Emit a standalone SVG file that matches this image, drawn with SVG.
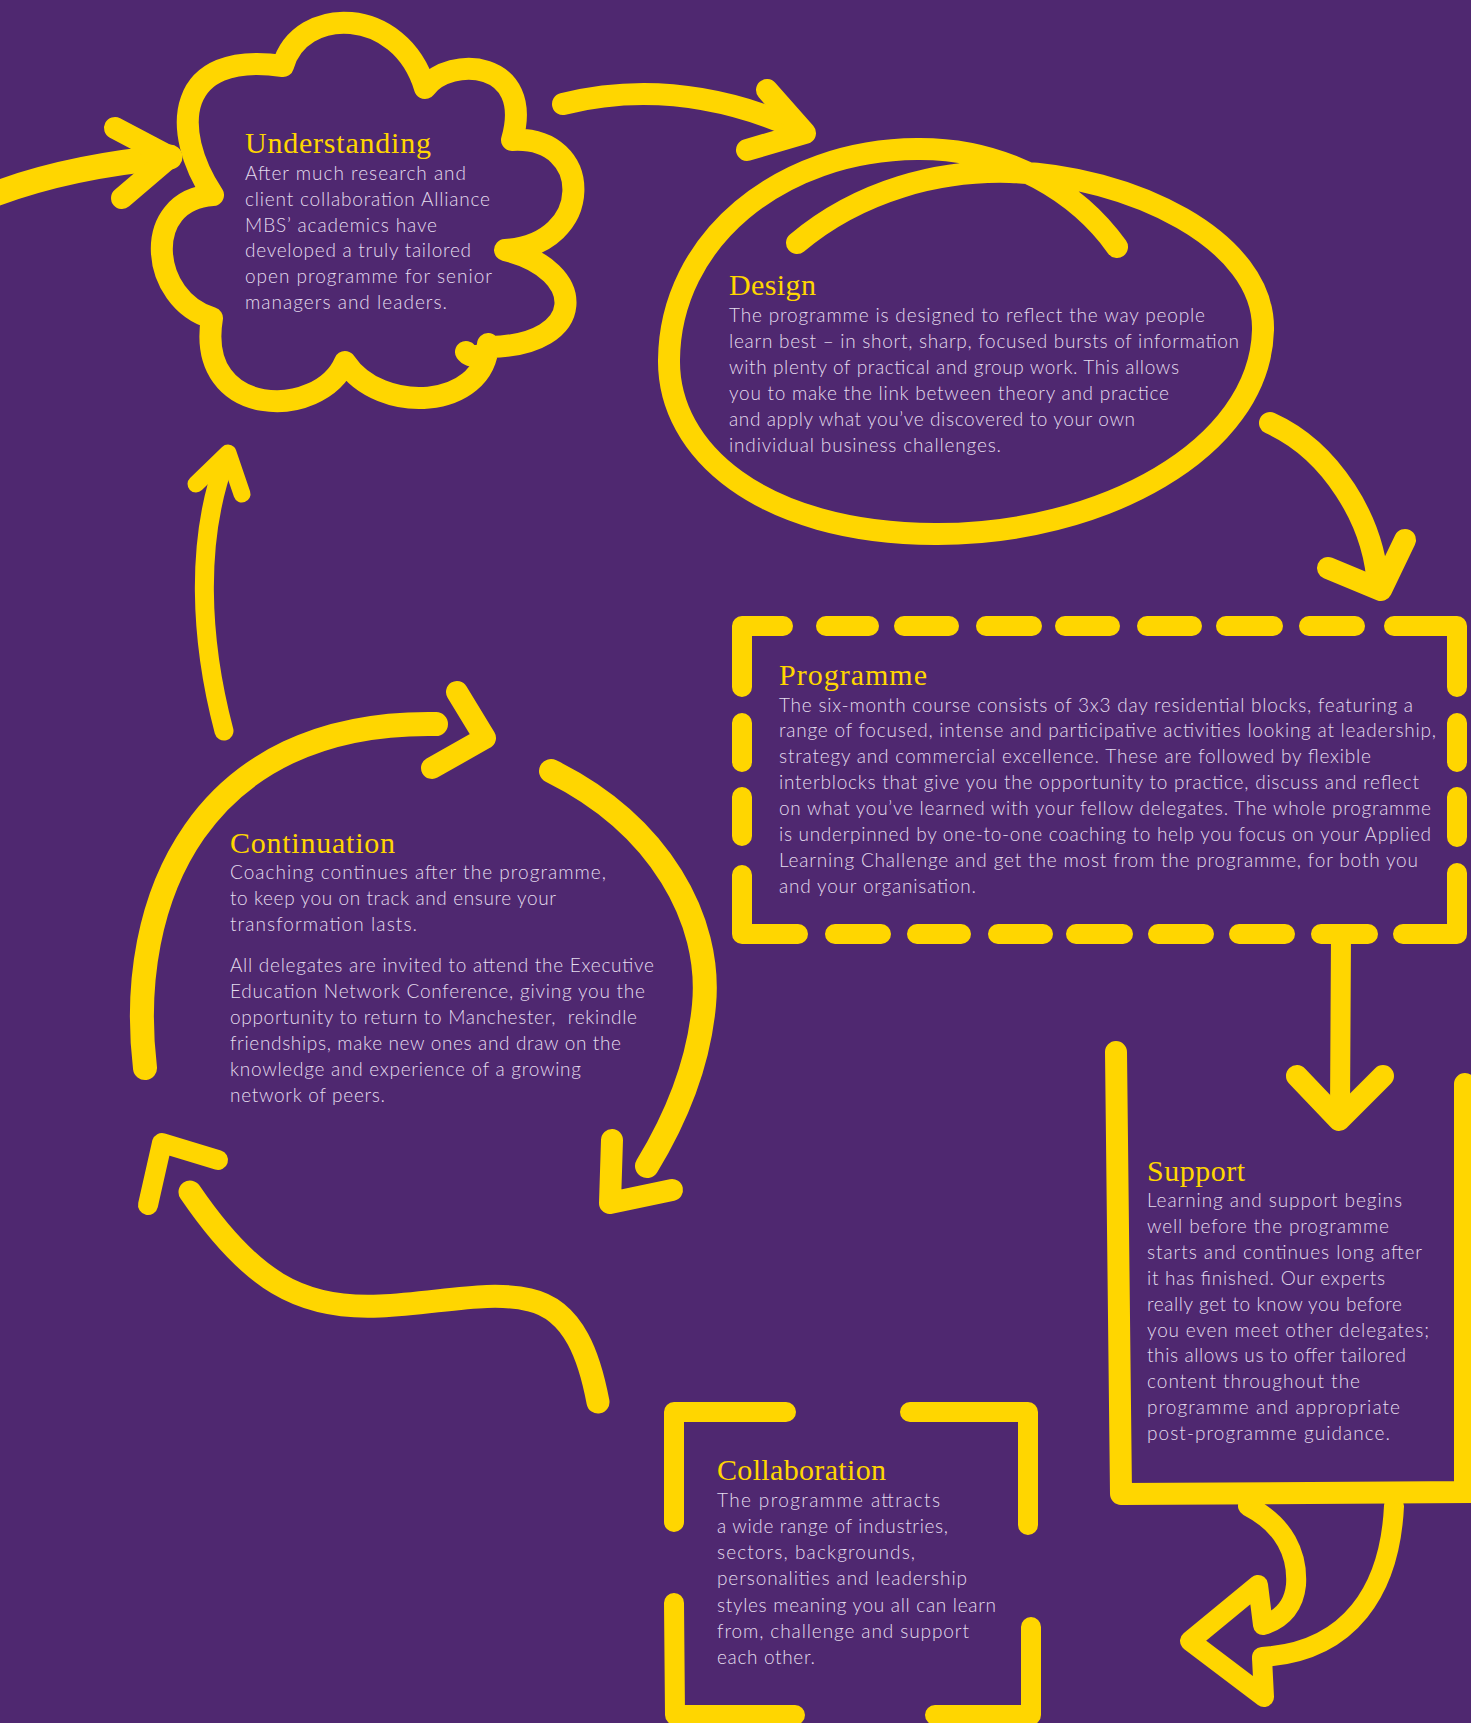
<svg xmlns="http://www.w3.org/2000/svg" width="1471" height="1723" viewBox="0 0 1471 1723">
<style>
.s{fill:none;stroke:#FFD600;stroke-linecap:round;stroke-linejoin:round}
.t{font-family:"Liberation Serif","Times New Roman",serif;font-size:30px;fill:#FFD600}
.b{font-family:Lato,"Open Sans","Liberation Sans",sans-serif;font-weight:300;font-size:19px;fill:#E4DCEE}
</style>
<rect x="0" y="0" width="1471" height="1723" fill="#4F2870"/>

<g id="connectors">
  <!-- into Understanding from left -->
  <path class="s" stroke-width="25" d="M-5,194 Q70,166 170,157"/>
  <path class="s" stroke-width="22" d="M115,128 L170,157 L122,198"/>
  <!-- Understanding to Design -->
  <path class="s" stroke-width="22" d="M563,104 Q680,75 803,131"/>
  <path class="s" stroke-width="22" d="M767,90 L805,133 L747,150"/>
  <!-- Design to Programme -->
  <path class="s" stroke-width="22" d="M1270,423 C1330,450 1375,520 1378,588"/>
  <path class="s" stroke-width="22" d="M1328,568 L1381,590 L1405,540"/>
  <!-- Programme to Support -->
  <path class="s" stroke-width="20" d="M1321,934 L1368,934 M1341,935 L1340,1112"/>
  <path class="s" stroke-width="22" d="M1297,1076 L1339,1120 L1383,1076"/>
  <!-- Support to Collaboration -->
  <path class="s" stroke-width="20" d="M1248,1506 C1285,1525 1298,1555 1296,1585 C1294,1605 1283,1618 1266,1624"/>
  <path class="s" stroke-width="20" d="M1394,1506 C1390,1590 1350,1652 1262,1657"/>
  <path class="s" stroke-width="20" d="M1263,1625 L1258,1585 L1190,1641 L1264,1697 L1262,1658"/>
  <!-- Collaboration to Continuation -->
  <path class="s" stroke-width="23" d="M598,1402 C590,1360 575,1310 530,1300 C490,1290 440,1303 380,1306 C300,1310 250,1280 190,1192"/>
  <path class="s" stroke-width="20" d="M218,1160 L162,1143 L148,1205"/>
  <!-- Continuation to Understanding -->
  <path class="s" stroke-width="19" stroke-linecap="butt" d="M224,731 C200,640 195,540 226,458"/>
  <path class="s" stroke-width="17" d="M196,484 L228,453 L242,494"/>
</g>

<g id="node-understanding">
  <path class="s" stroke-width="22" d="M213,195 C170,130 175,50 283,66 C300,5 400,5 425,88 C450,55 535,60 512,140 C595,135 595,245 505,250 C588,270 588,345 490,347 C484,358 470,358 466,352 M488,344 C485,410 380,415 345,362 C320,420 195,420 212,318 C150,300 140,200 213,195"/>
  <text class="t" x="245" y="153" textLength="186" lengthAdjust="spacing">Understanding</text>
  <text class="b" x="245" y="180" textLength="221" lengthAdjust="spacing">After much research and</text>
  <text class="b" x="245" y="205.8" textLength="245" lengthAdjust="spacing">client collaboration Alliance</text>
  <text class="b" x="245" y="231.6" textLength="192" lengthAdjust="spacing">MBS’ academics have</text>
  <text class="b" x="245" y="257.4" textLength="226" lengthAdjust="spacing">developed a truly tailored</text>
  <text class="b" x="245" y="283.2" textLength="247" lengthAdjust="spacing">open programme for senior</text>
  <text class="b" x="245" y="309" textLength="202" lengthAdjust="spacing">managers and leaders.</text>
</g>

<g id="node-design">
  <path class="s" stroke-width="22" d="M797,243 C860,190 940,170 1010,172 C1130,175 1265,240 1263,330 C1260,450 1100,535 935,534 C760,533 668,450 669,360 C670,240 780,150 917,149 C1010,148 1080,195 1117,247"/>
  <text class="t" x="729" y="295" textLength="87" lengthAdjust="spacing">Design</text>
  <text class="b" x="729" y="321.7" textLength="476" lengthAdjust="spacing">The programme is designed to reflect the way people</text>
  <text class="b" x="729" y="347.7" textLength="510" lengthAdjust="spacing">learn best – in short, sharp, focused bursts of information</text>
  <text class="b" x="729" y="373.7" textLength="450" lengthAdjust="spacing">with plenty of practical and group work. This allows</text>
  <text class="b" x="729" y="399.7" textLength="440" lengthAdjust="spacing">you to make the link between theory and practice</text>
  <text class="b" x="729" y="425.7" textLength="406" lengthAdjust="spacing">and apply what you’ve discovered to your own</text>
  <text class="b" x="729" y="451.7" textLength="272" lengthAdjust="spacing">individual business challenges.</text>
</g>

<g id="node-programme">
  <path class="s" stroke-width="20" d="M742,687 L742,626 L783,626 M826,626 L869,626 M904,626 L949,626 M986,626 L1032,626 M1065,626 L1110,626 M1147,626 L1192,626 M1226,626 L1273,626 M1309,626 L1355,626 M1394,626 L1457,626 L1457,687 M1457,723 L1457,762 M1457,797 L1457,837 M1457,873 L1457,934 L1403,934 M742,875 L742,934 L798,934 M835,934 L881,934 M917,934 L961,934 M998,934 L1043,934 M1076,934 L1123,934 M1158,934 L1204,934 M1239,934 L1285,934 M742,723 L742,762 M742,797 L742,836"/>
  <text class="t" x="779" y="685" textLength="148" lengthAdjust="spacing">Programme</text>
  <text class="b" x="779" y="711.5" textLength="634" lengthAdjust="spacing">The six-month course consists of 3x3 day residential blocks, featuring a</text>
  <text class="b" x="779" y="737.4" textLength="657" lengthAdjust="spacing">range of focused, intense and participative activities looking at leadership,</text>
  <text class="b" x="779" y="763.3" textLength="592" lengthAdjust="spacing">strategy and commercial excellence. These are followed by flexible</text>
  <text class="b" x="779" y="789.2" textLength="640" lengthAdjust="spacing">interblocks that give you the opportunity to practice, discuss and reflect</text>
  <text class="b" x="779" y="815.1" textLength="652" lengthAdjust="spacing">on what you’ve learned with your fellow delegates. The whole programme</text>
  <text class="b" x="779" y="841" textLength="652" lengthAdjust="spacing">is underpinned by one-to-one coaching to help you focus on your Applied</text>
  <text class="b" x="779" y="866.9" textLength="639" lengthAdjust="spacing">Learning Challenge and get the most from the programme, for both you</text>
  <text class="b" x="779" y="892.8" textLength="197" lengthAdjust="spacing">and your organisation.</text>
</g>

<g id="node-support">
  <path class="s" stroke-width="22" d="M1116,1052 L1121,1494 L1480,1492 M1465,1084 L1465,1492"/>
  <text class="t" x="1147" y="1180.5" textLength="98" lengthAdjust="spacing">Support</text>
  <text class="b" x="1147" y="1207" textLength="255" lengthAdjust="spacing">Learning and support begins</text>
  <text class="b" x="1147" y="1232.9" textLength="242" lengthAdjust="spacing">well before the programme</text>
  <text class="b" x="1147" y="1258.8" textLength="275" lengthAdjust="spacing">starts and continues long after</text>
  <text class="b" x="1147" y="1284.7" textLength="238" lengthAdjust="spacing">it has finished. Our experts</text>
  <text class="b" x="1147" y="1310.6" textLength="255" lengthAdjust="spacing">really get to know you before</text>
  <text class="b" x="1147" y="1336.5" textLength="282" lengthAdjust="spacing">you even meet other delegates;</text>
  <text class="b" x="1147" y="1362.4" textLength="259" lengthAdjust="spacing">this allows us to offer tailored</text>
  <text class="b" x="1147" y="1388.3" textLength="213" lengthAdjust="spacing">content throughout the</text>
  <text class="b" x="1147" y="1414.2" textLength="253" lengthAdjust="spacing">programme and appropriate</text>
  <text class="b" x="1147" y="1440.1" textLength="243" lengthAdjust="spacing">post-programme guidance.</text>
</g>

<g id="node-collaboration">
  <path class="s" stroke-width="20" d="M674,1522 L674,1412 L786,1412 M910,1412 L1028,1412 L1028,1525 M674,1603 L675,1715 L795,1715 M1031,1627 L1031,1715 L935,1715"/>
  <text class="t" x="717" y="1480" textLength="169" lengthAdjust="spacing">Collaboration</text>
  <text class="b" x="717" y="1506.7" textLength="223" lengthAdjust="spacing">The programme attracts</text>
  <text class="b" x="717" y="1532.9" textLength="231" lengthAdjust="spacing">a wide range of industries,</text>
  <text class="b" x="717" y="1559.1" textLength="198" lengthAdjust="spacing">sectors, backgrounds,</text>
  <text class="b" x="717" y="1585.3" textLength="250" lengthAdjust="spacing">personalities and leadership</text>
  <text class="b" x="717" y="1611.5" textLength="279" lengthAdjust="spacing">styles meaning you all can learn</text>
  <text class="b" x="717" y="1637.7" textLength="252" lengthAdjust="spacing">from, challenge and support</text>
  <text class="b" x="717" y="1663.9" textLength="98" lengthAdjust="spacing">each other.</text>
</g>

<g id="node-continuation">
  <path class="s" stroke-width="24" d="M145,1068 C125,900 200,720 436,724"/>
  <path class="s" stroke-width="22" d="M457,692 L485,738 L432,768"/>
  <path class="s" stroke-width="24" d="M551,771 C660,825 712,920 704,1005 C698,1070 672,1125 647,1166"/>
  <path class="s" stroke-width="22" d="M612,1140 L610,1203 L672,1190"/>
  <text class="t" x="230" y="852.5" textLength="165" lengthAdjust="spacing">Continuation</text>
  <text class="b" x="230" y="878.5" textLength="376" lengthAdjust="spacing">Coaching continues after the programme,</text>
  <text class="b" x="230" y="904.5" textLength="326" lengthAdjust="spacing">to keep you on track and ensure your</text>
  <text class="b" x="230" y="930.5" textLength="187" lengthAdjust="spacing">transformation lasts.</text>
  <text class="b" x="230" y="971.5" textLength="424" lengthAdjust="spacing">All delegates are invited to attend the Executive</text>
  <text class="b" x="230" y="997.5" textLength="415" lengthAdjust="spacing">Education Network Conference, giving you the</text>
  <text class="b" x="230" y="1023.5" textLength="407" lengthAdjust="spacing" xml:space="preserve">opportunity to return to Manchester,  rekindle</text>
  <text class="b" x="230" y="1049.5" textLength="391" lengthAdjust="spacing">friendships, make new ones and draw on the</text>
  <text class="b" x="230" y="1075.5" textLength="351" lengthAdjust="spacing">knowledge and experience of a growing</text>
  <text class="b" x="230" y="1101.5" textLength="155" lengthAdjust="spacing">network of peers.</text>
</g>
</svg>
